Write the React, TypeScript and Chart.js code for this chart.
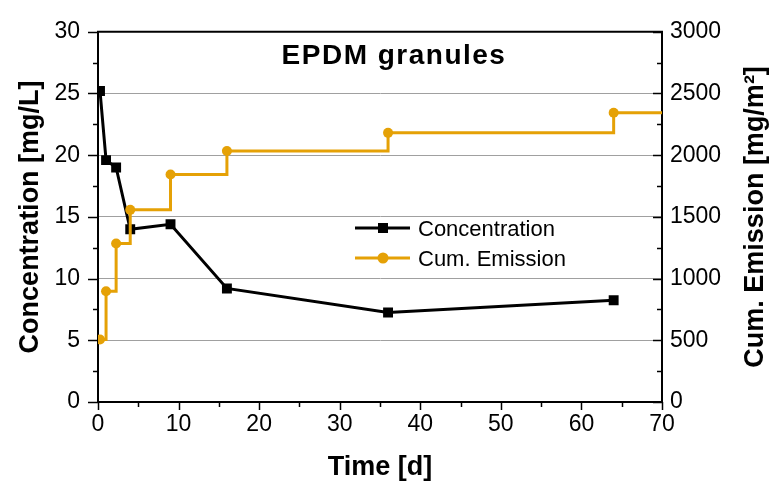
import React, { useEffect, useRef } from 'react';
import { Chart, registerables } from 'chart.js';

Chart.register(...registerables);

// ---- data ----
const days: number[] = [0.25, 1, 2.25, 4, 9, 16, 36, 64];
const concentration: number[] = [25.2, 19.6, 19.0, 14.0, 14.4, 9.2, 7.25, 8.25];
const cumEmission: number[] = [507, 897, 1284, 1557, 1844, 2034, 2181, 2344];
const emissionEndDay = 70;

const chartTitle = 'EPDM granules';
const xTitle = 'Time [d]';
const yTitle = 'Concentration [mg/L]';
const y2Title = 'Cum. Emission [mg/m\u00B2]';
const seriesNames = ['Concentration', 'Cum. Emission'];

const FONT = "'Liberation Sans', Arial, Helvetica, sans-serif";
const BLACK = '#000000';
const GOLD = '#E5A106';

const decorPlugin = {
  id: 'decor',
  afterDraw(chart: any) {
    const { ctx, chartArea: a, scales } = chart;
    const x = scales.x, y = scales.y, y2 = scales.y2;
    const seg = (x1: number, y1: number, x2: number, y2p: number) => {
      ctx.beginPath();
      ctx.moveTo(x1, y1);
      ctx.lineTo(x2, y2p);
      ctx.stroke();
    };
    ctx.save();
    ctx.strokeStyle = BLACK;
    ctx.lineWidth = 2;
    seg(a.left - 1, a.top, a.right + 1, a.top);
    ctx.lineWidth = 1.5;
    // left ticks (outward)
    for (let v = 0; v <= 30.001; v += 2.5) {
      const len = Math.abs(v % 5) < 1e-6 ? 10 : 5;
      const py = Math.round(y.getPixelForValue(v)) + 0.5;
      seg(a.left - len, py, a.left, py);
    }
    // right ticks (inward)
    for (let v = 0; v <= 3000.001; v += 250) {
      const len = v % 500 === 0 ? 9 : 5;
      const py = Math.round(y2.getPixelForValue(v)) + 0.5;
      seg(a.right - len, py, a.right, py);
    }
    // x ticks (outward)
    for (let v = 0; v <= 70.001; v += 5) {
      const len = v % 10 === 0 ? 8 : 5;
      const px = Math.round(x.getPixelForValue(v)) + 0.5;
      seg(px, a.bottom, px, a.bottom + len);
    }

    // in-plot title
    ctx.fillStyle = BLACK;
    ctx.font = `bold 28px ${FONT}`;
    (ctx as any).letterSpacing = '1.5px';
    ctx.textAlign = 'center';
    ctx.textBaseline = 'alphabetic';
    ctx.fillText(chartTitle, 394, 64);
    (ctx as any).letterSpacing = '0px';

    // right axis title (reads bottom-to-top)
    ctx.save();
    ctx.translate(756, (a.top + a.bottom) / 2);
    ctx.rotate(-Math.PI / 2);
    ctx.font = `bold 27px ${FONT}`;
    ctx.textAlign = 'center';
    ctx.textBaseline = 'middle';
    ctx.fillText(y2Title, 0, 0);
    ctx.restore();

    // legend
    const lx1 = 355, lx2 = 410, mx = 383, tx = 418;
    const rows = [
      { y: 228, color: BLACK, style: 'rect', label: seriesNames[0] },
      { y: 258, color: GOLD, style: 'circle', label: seriesNames[1] },
    ];
    ctx.textAlign = 'left';
    ctx.font = `22px ${FONT}`;
    ctx.textBaseline = 'alphabetic';
    for (const r of rows) {
      ctx.strokeStyle = r.color;
      ctx.fillStyle = r.color;
      ctx.lineWidth = 3;
      seg(lx1, r.y, lx2, r.y);
      ctx.beginPath();
      if (r.style === 'rect') {
        ctx.rect(mx - 5, r.y - 5, 10, 10);
      } else {
        ctx.arc(mx, r.y, 5.5, 0, Math.PI * 2);
      }
      ctx.fill();
      ctx.fillStyle = BLACK;
      ctx.fillText(r.label, tx, r.y + 8);
    }
    ctx.restore();
  },
};

export default function App() {
  const ref = useRef<HTMLCanvasElement | null>(null);
  useEffect(() => {
    if (!ref.current) return;
    const concPts = days.map((d, i) => ({ x: d, y: concentration[i] }));
    const emPts = days.map((d, i) => ({ x: d, y: cumEmission[i] }));
    emPts.push({ x: emissionEndDay, y: cumEmission[cumEmission.length - 1] });
    const emRadius = emPts.map((_, i) => (i < days.length ? 5 : 0));

    const chart = new Chart(ref.current, {
      type: 'line',
      data: {
        datasets: [
          {
            label: seriesNames[0],
            data: concPts,
            yAxisID: 'y',
            borderColor: BLACK,
            backgroundColor: BLACK,
            borderWidth: 3,
            pointStyle: 'rect',
            pointRadius: 7,
            pointBorderWidth: 0,
            tension: 0,
            order: 2,
          },
          {
            label: seriesNames[1],
            data: emPts,
            yAxisID: 'y2',
            borderColor: GOLD,
            backgroundColor: GOLD,
            borderWidth: 3,
            pointStyle: 'circle',
            pointRadius: emRadius,
            pointBorderWidth: 0,
            stepped: true,
            order: 1,
          },
        ],
      },
      options: {
        responsive: false,
        animation: false,
        devicePixelRatio: 1,
        layout: { padding: { top: 22, left: 0, right: 0, bottom: 0 } },
        plugins: {
          legend: { display: false },
          tooltip: { enabled: false },
          title: { display: false },
        },
        scales: {
          x: {
            type: 'linear',
            min: 0,
            max: 70,
            afterFit: (s: any) => { s.height = 88; },
            ticks: { stepSize: 10, padding: 9, color: BLACK, font: { family: FONT, size: 23 } },
            grid: { display: true, drawOnChartArea: false, drawTicks: false },
            border: { display: true, color: BLACK, width: 2 },
            title: {
              display: true,
              text: xTitle,
              color: BLACK,
              font: { family: FONT, size: 27, weight: 'bold' },
              padding: { top: 0, bottom: 6 },
            },
          },
          y: {
            type: 'linear',
            position: 'left',
            min: 0,
            max: 30,
            afterFit: (s: any) => { s.width = 98; },
            ticks: { stepSize: 5, padding: 18, color: BLACK, font: { family: FONT, size: 23 } },
            grid: {
              drawTicks: false,
              color: (c: any) => (c.tick && (c.tick.value === 0 || c.tick.value === 30) ? 'rgba(0,0,0,0)' : '#a0a0a0'),
              lineWidth: 1,
            },
            border: { display: true, color: BLACK, width: 2 },
            title: {
              display: true,
              text: yTitle,
              color: BLACK,
              font: { family: FONT, size: 27, weight: 'bold' },
              padding: { top: 14, bottom: 0 },
            },
          },
          y2: {
            type: 'linear',
            position: 'right',
            min: 0,
            max: 3000,
            afterFit: (s: any) => { s.width = 118; },
            ticks: {
              stepSize: 500,
              padding: 8,
              color: BLACK,
              font: { family: FONT, size: 23 },
              callback: (v: any) => String(v),
            },
            grid: { drawOnChartArea: false, drawTicks: false },
            border: { display: true, color: BLACK, width: 2 },
            title: { display: false },
          },
        },
      },
      plugins: [decorPlugin],
    } as any);
    return () => chart.destroy();
  }, []);

  return (
    <div style={{ position: 'absolute', left: 0, top: 0, width: 780, height: 490, background: '#fff' }}>
      <canvas ref={ref} width={780} height={490} style={{ width: 780, height: 490, display: 'block' }} />
    </div>
  );
}
